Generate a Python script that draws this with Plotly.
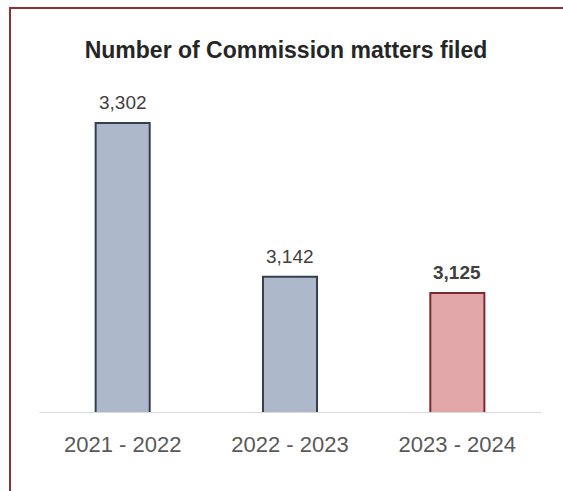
import plotly.graph_objects as go

# Fiscal years and filings
periods = ["2021 - 2022", "2022 - 2023", "2023 - 2024"]
filed = [3302, 3142, 3125]
value_labels = ["3,302", "3,142", "<b>3,125</b>"]

fill_colors = ["#adb9ca", "#adb9ca", "#e2a7a8"]
edge_colors = ["#333f50", "#333f50", "#7d2a2e"]

fig = go.Figure(
    go.Bar(
        x=periods,
        y=filed,
        marker=dict(color=fill_colors, line=dict(color=edge_colors, width=2)),
        hoverinfo="skip",
    )
)

# value labels above each bar
for p, v, lab in zip(periods, filed, value_labels):
    fig.add_annotation(
        x=p, y=v, text=lab, showarrow=False,
        yanchor="bottom", yshift=8,
        font=dict(size=19, color="#404040"),
    )

W, H = 563, 491
ml, mr, mt, mb = 39, 22, 80, 78

fig.update_layout(
    width=W,
    height=H,
    margin=dict(l=ml, r=mr, t=mt, b=mb),
    paper_bgcolor="white",
    plot_bgcolor="white",
    bargap=0.677,
    showlegend=False,
    font=dict(family="Liberation Sans, Arial, sans-serif", color="#404040"),
    title=dict(
        text="<b>Number of Commission matters filed</b>",
        x=286 / W,
        xanchor="center",
        y=1 - 50 / H,
        yanchor="middle",
        font=dict(size=23, color="#262626"),
    ),
    xaxis=dict(
        showgrid=False,
        showline=False,
        zeroline=False,
        ticks="",
        ticklabelstandoff=16,
        tickfont=dict(size=22, color="#595959"),
    ),
    yaxis=dict(
        range=[3000, 3000 + (H - mt - mb) / 0.96],
        visible=False,
        showgrid=False,
        zeroline=False,
    ),
    shapes=[
        # category axis baseline
        dict(type="line", xref="paper", yref="y", x0=0, x1=1, y0=3000, y1=3000,
             line=dict(color="#d9d9d9", width=2), layer="above"),
        # frame: top and left edges
        dict(type="line", xref="paper", yref="paper",
             x0=(9 - ml) / (W - ml - mr), x1=(W + 5 - ml) / (W - ml - mr),
             y0=(H - mb - 8) / (H - mt - mb), y1=(H - mb - 8) / (H - mt - mb),
             line=dict(color="#8a3236", width=2), layer="above"),
        dict(type="line", xref="paper", yref="paper",
             x0=(10 - ml) / (W - ml - mr), x1=(10 - ml) / (W - ml - mr),
             y0=(H - mb - 7) / (H - mt - mb), y1=(H - mb - H - 5) / (H - mt - mb),
             line=dict(color="#8a3236", width=2), layer="above"),
    ],
)

fig.write_html("out.html")
